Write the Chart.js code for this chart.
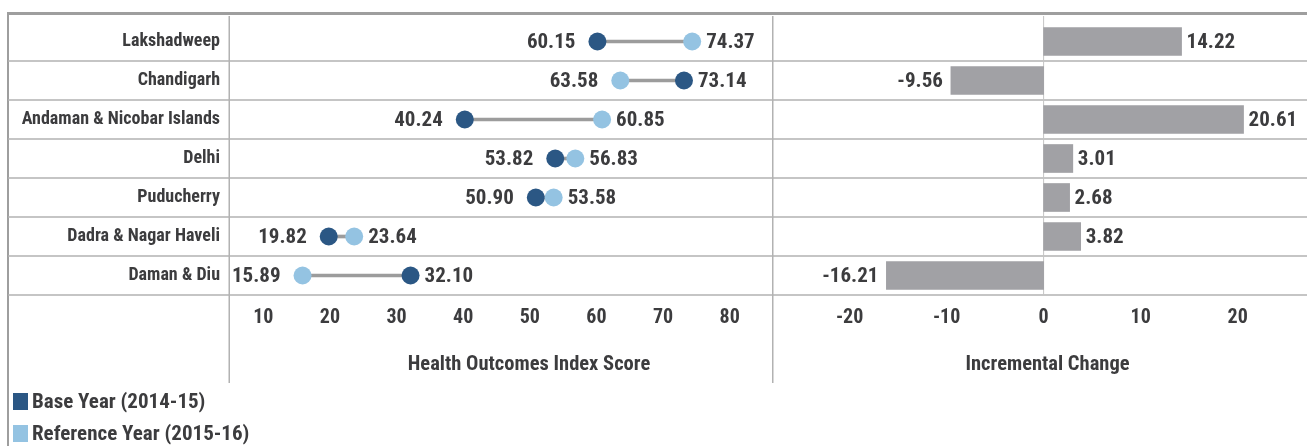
<!DOCTYPE html>
<html>
<head>
<meta charset="utf-8">
<title>Health Outcomes Index Score - Union Territories</title>
<script src="https://cdn.jsdelivr.net/npm/chart.js@4/dist/chart.umd.min.js"></script>
<style>
  html, body { margin:0; padding:0; background:#fff; }
  body {
    width:1307px; height:446px; position:relative; overflow:hidden;
    font-family:Roboto,"Liberation Sans",sans-serif; font-stretch:condensed;
    color:#3c3c3e;
  }
  .frame {
    position:absolute; left:7px; top:12px; width:1300px; height:434px;
    border-top:3px solid #9e9e9e; border-left:2px solid #9e9e9e; box-sizing:border-box;
  }
  #leftBox  { position:absolute; left:0;     top:0; width:772px; height:446px; }
  #rightBox { position:absolute; left:772px; top:0; width:535px; height:446px; }
  #legend { position:absolute; left:13px; top:385px; font-weight:bold; font-size:21px; }
  #legend .item { height:32px; line-height:32px; display:flex; align-items:center; }
  #legend .sw { width:15px; height:17px; margin-right:4px; display:inline-block; }
</style>
</head>
<body>
<div class="frame"></div>
<div id="leftBox"><canvas id="scoreChart"></canvas></div>
<div id="rightBox"><canvas id="changeChart"></canvas></div>
<div id="legend"></div>

<script>
'use strict';

// ===== data =====
const CATEGORIES = ["Lakshadweep","Chandigarh","Andaman & Nicobar Islands","Delhi","Puducherry","Dadra & Nagar Haveli","Daman & Diu"];
const BASE_YEAR  = [60.15, 73.14, 40.24, 53.82, 50.90, 19.82, 32.10];   // 2014-15
const REF_YEAR   = [74.37, 63.58, 60.85, 56.83, 53.58, 23.64, 15.89];   // 2015-16
const CHANGE     = [14.22, -9.56, 20.61, 3.01, 2.68, 3.82, -16.21];

const SCORE_TICKS  = [10, 20, 30, 40, 50, 60, 70, 80];
const CHANGE_TICKS = [-20, -10, 0, 10, 20];

const SERIES_NAMES = ["Base Year (2014-15)", "Reference Year (2015-16)"];

// ===== styles =====
const FONT = 'Roboto, "Liberation Sans", sans-serif';
const W = 'bold condensed';   // goes into the canvas font string -> Roboto Condensed Bold
const TEXT = '#3c3c3e';
const DARK_BLUE = '#2b5784';
const LIGHT_BLUE = '#94c3e2';
const GREY_BAR = '#a1a1a5';
const LINE_GREY = '#b2b2b2';

// legend (html)
const elLegend = document.getElementById('legend');
[DARK_BLUE, LIGHT_BLUE].forEach((c, i) => {
  const row = document.createElement('div');
  row.className = 'item';
  row.innerHTML = `<span class="sw" style="background:${c}"></span>${SERIES_NAMES[i]}`;
  elLegend.appendChild(row);
});

// ===== plugins =====
// row separators + column line
function rowLinesPlugin(x0, vx){
  return {
    id: 'rowLines',
    beforeDatasetsDraw(chart){
      const {ctx, chartArea: a} = chart;
      const n = CATEGORIES.length;
      const h = (a.bottom - a.top) / n;
      ctx.save();
      ctx.strokeStyle = LINE_GREY;
      ctx.lineWidth = 1.5;
      ctx.beginPath();
      for(let k = 1; k <= n; k++){
        const y = a.top + k * h;
        ctx.moveTo(x0, y);
        ctx.lineTo(chart.width, y);
      }
      const xv = vx(a);
      ctx.moveTo(xv, 16);
      ctx.lineTo(xv, 383);
      ctx.stroke();
      ctx.restore();
    }
  };
}

// axis title, centred where the original puts it (not exactly mid-axis)
function axisTitlePlugin(text, cx){
  return {
    id: 'axisTitle',
    afterDraw(chart){
      const {ctx} = chart;
      ctx.save();
      ctx.font = `${W} 20.5px ${FONT}`;
      ctx.fillStyle = TEXT;
      ctx.textAlign = 'center';
      ctx.textBaseline = 'middle';
      ctx.fillText(text, cx, 365);
      ctx.restore();
    }
  };
}

const dotLabels = {
  id: 'dotLabels',
  afterDatasetsDraw(chart){
    const {ctx, scales: {x, y}} = chart;
    ctx.save();
    ctx.font = `${W} 21px ${FONT}`;
    ctx.fillStyle = TEXT;
    ctx.textBaseline = 'middle';
    CATEGORIES.forEach((c, i) => {
      const lo = Math.min(BASE_YEAR[i], REF_YEAR[i]);
      const hi = Math.max(BASE_YEAR[i], REF_YEAR[i]);
      const yy = y.getPixelForValue(i) + 1;
      ctx.textAlign = 'right';
      ctx.fillText(lo.toFixed(2), x.getPixelForValue(lo) - 22, yy);
      ctx.textAlign = 'left';
      ctx.fillText(hi.toFixed(2), x.getPixelForValue(hi) + 14, yy);
    });
    ctx.restore();
  }
};

const barLabels = {
  id: 'barLabels',
  beforeDatasetsDraw(chart){
    // zero line
    const {ctx, chartArea: a, scales: {x}} = chart;
    const x0 = x.getPixelForValue(0);
    ctx.save();
    ctx.strokeStyle = '#c4c4c4';
    ctx.lineWidth = 1;
    ctx.beginPath();
    ctx.moveTo(x0, 16);
    ctx.lineTo(x0, a.bottom);
    ctx.stroke();
    ctx.restore();
  },
  afterDatasetsDraw(chart){
    const {ctx, scales: {x, y}} = chart;
    ctx.save();
    ctx.font = `${W} 21px ${FONT}`;
    ctx.fillStyle = TEXT;
    ctx.textBaseline = 'middle';
    CHANGE.forEach((v, i) => {
      const yy = y.getPixelForValue(i) + 1;
      const px = x.getPixelForValue(v);
      if(v >= 0){
        ctx.textAlign = 'left';
        ctx.fillText(v.toFixed(2), px + 5, yy);
      } else {
        ctx.textAlign = 'right';
        ctx.fillText(v.toFixed(2), px - 8, yy);
      }
    });
    ctx.restore();
  }
};

// ===== charts =====
Chart.defaults.font.family = FONT;
Chart.defaults.color = TEXT;

const tickFont = { size: 20, weight: W, family: FONT };

new Chart(document.getElementById('scoreChart'), {
  type: 'bar',
  data: {
    labels: CATEGORIES,
    datasets: [
      {
        type: 'line', label: SERIES_NAMES[1], data: REF_YEAR, indexAxis: 'y',
        showLine: false, pointRadius: 9, pointBorderWidth: 0,
        pointBackgroundColor: LIGHT_BLUE, backgroundColor: LIGHT_BLUE, borderColor: LIGHT_BLUE
      },
      {
        type: 'line', label: SERIES_NAMES[0], data: BASE_YEAR, indexAxis: 'y',
        showLine: false, pointRadius: 9, pointBorderWidth: 0,
        pointBackgroundColor: DARK_BLUE, backgroundColor: DARK_BLUE, borderColor: DARK_BLUE
      },
      {
        label: 'range', indexAxis: 'y',
        data: BASE_YEAR.map((b, i) => [Math.min(b, REF_YEAR[i]), Math.max(b, REF_YEAR[i])]),
        backgroundColor: '#9c9c9c', barThickness: 3, borderSkipped: false
      }
    ]
  },
  options: {
    indexAxis: 'y',
    responsive: true,
    maintainAspectRatio: false,
    animation: false,
    layout: { padding: { top: 22, right: 2, left: 0, bottom: 0 } },
    plugins: { legend: { display: false }, tooltip: { enabled: false } },
    scales: {
      x: {
        type: 'linear', min: 5, max: 85,
        afterBuildTicks: s => { s.ticks = SCORE_TICKS.map(v => ({ value: v })); },
        afterFit: s => { s.height = 151; },
        grid: { display: false, drawTicks: false },
        border: { display: false },
        ticks: { color: TEXT, font: tickFont, padding: 11, maxRotation: 0, autoSkip: false },
        title: { display: false }
      },
      y: {
        type: 'category', offset: true,
        afterFit: s => { s.width = 230; },
        grid: { display: false, drawTicks: false },
        border: { display: false },
        ticks: { color: TEXT, font: { size: 18, weight: W, family: FONT }, padding: 10, autoSkip: false }
      }
    }
  },
  plugins: [rowLinesPlugin(8, a => a.left - 0.75), dotLabels, axisTitlePlugin('Health Outcomes Index Score', 529)]
});

new Chart(document.getElementById('changeChart'), {
  type: 'bar',
  data: {
    labels: CATEGORIES,
    datasets: [{
      label: 'Incremental Change', data: CHANGE,
      backgroundColor: GREY_BAR, barThickness: 28
    }]
  },
  options: {
    indexAxis: 'y',
    responsive: true,
    maintainAspectRatio: false,
    animation: false,
    layout: { padding: { top: 22, right: 0, left: 0, bottom: 0 } },
    plugins: { legend: { display: false }, tooltip: { enabled: false } },
    scales: {
      x: {
        type: 'linear', min: -28, max: 27.15,
        afterBuildTicks: s => { s.ticks = CHANGE_TICKS.map(v => ({ value: v })); },
        afterFit: s => { s.height = 151; },
        grid: { display: false, drawTicks: false },
        border: { display: false },
        ticks: { color: TEXT, font: tickFont, padding: 11, maxRotation: 0, autoSkip: false },
        title: { display: false }
      },
      y: { type: 'category', offset: true, display: false }
    }
  },
  plugins: [rowLinesPlugin(0, () => 0.75), barLabels, axisTitlePlugin('Incremental Change', 275.5)]
});
</script>
</body>
</html>
